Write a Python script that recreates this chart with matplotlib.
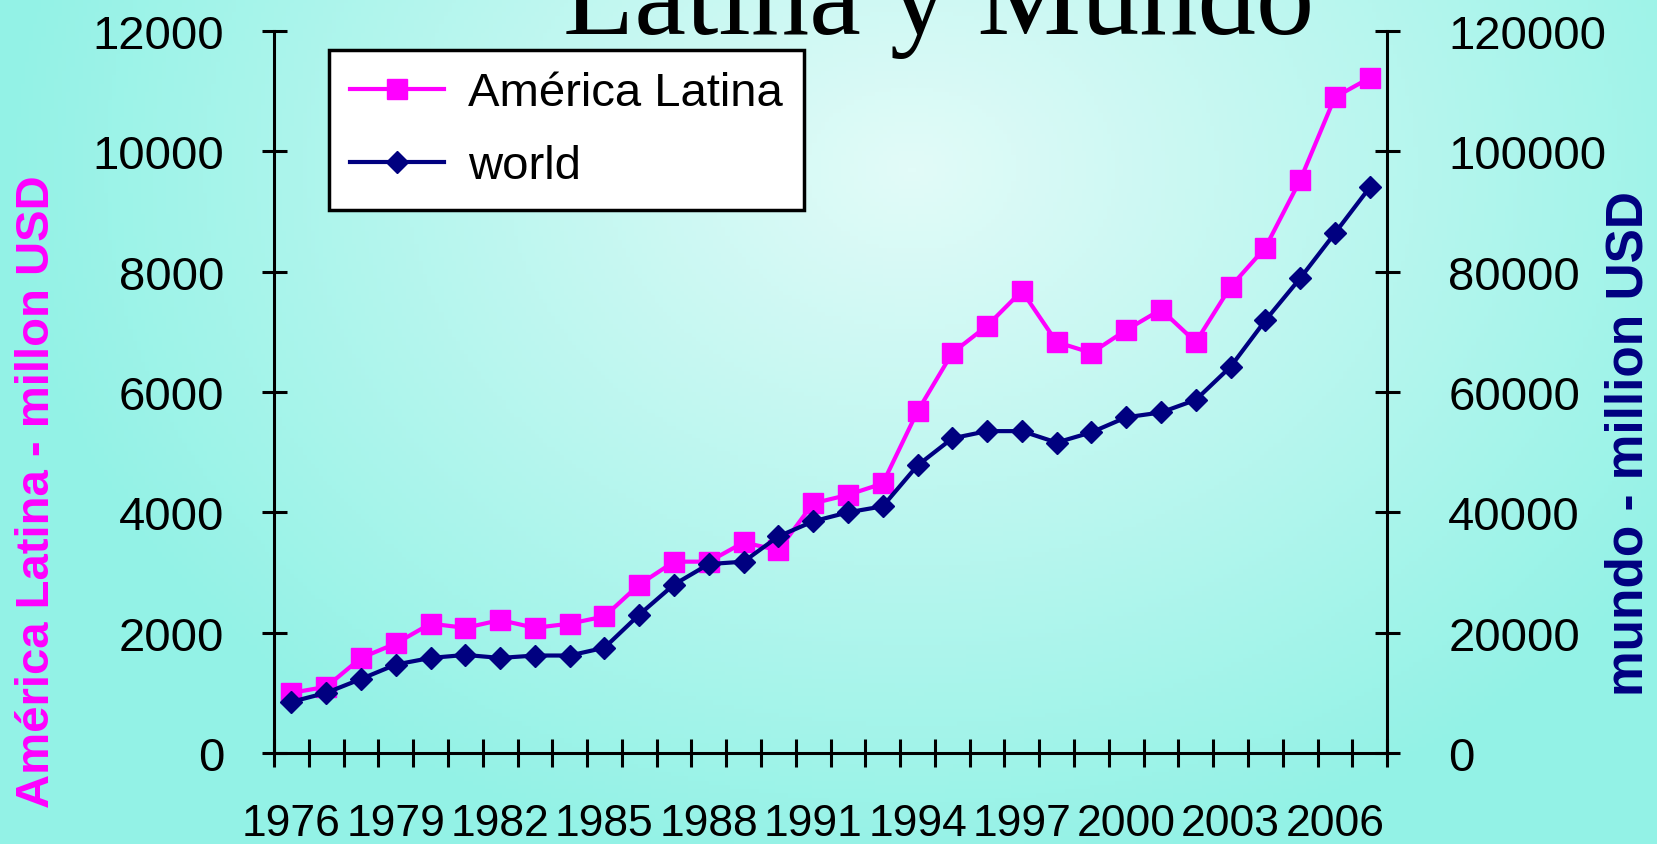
import numpy as np
import matplotlib
matplotlib.use("Agg")
import matplotlib.pyplot as plt
from matplotlib.colors import LinearSegmentedColormap

plt.rcParams['font.family'] = ['Liberation Sans', 'DejaVu Sans']

# datos
years = list(range(1976, 2008))
america_latina = [1000, 1100, 1580, 1820, 2150, 2080, 2210, 2080, 2150, 2270,
                  2800, 3180, 3180, 3500, 3370, 4150, 4290, 4480, 5680, 6650,
                  7100, 7680, 6830, 6650, 7030, 7370, 6830, 7750, 8400, 9520,
                  10900, 11220]
world = [8500, 10000, 12300, 14700, 15800, 16300, 15800, 16200, 16200, 17500,
         23000, 28000, 31400, 31800, 36000, 38500, 40000, 41000, 47800, 52300,
         53500, 53500, 51600, 53300, 55800, 56600, 58700, 64200, 71900, 78900,
         86400, 94000]
label_years = list(range(1976, 2007, 3))
left_ticks = [0, 2000, 4000, 6000, 8000, 10000, 12000]
right_ticks = [0, 20000, 40000, 60000, 80000, 100000, 120000]

fig = plt.figure(figsize=(16.58, 8.45), dpi=100)

# fondo con degradado radial
bg = fig.add_axes([0, 0, 1, 1], zorder=-10)
xx, yy = np.meshgrid(np.linspace(0, 1, 400), np.linspace(0, 1, 200))
r = np.sqrt(((xx - 0.55) / 0.55) ** 2 + ((yy - 0.80) / 0.85) ** 2)
cmap = LinearSegmentedColormap.from_list('bg', ['#e2fbf8', '#93f2e6'])
bg.imshow(np.clip(r, 0, 1), cmap=cmap, origin='lower', aspect='auto',
          extent=[0, 1, 0, 1], vmin=0, vmax=1)
bg.axis('off')

ax = fig.add_axes([0.1653, 0.1077, 0.6713, 0.8544])
ax.patch.set_alpha(0)
ax2 = ax.twinx()

l1, = ax.plot(years, america_latina, color='#ff00ff', lw=3, marker='s',
              markersize=14, label='América Latina', zorder=3)
l2, = ax2.plot(years, world, color='#000080', lw=3, marker='D',
               markersize=11, label='world', zorder=3)

ax.set_xlim(1975.5, 2007.5)
ax.set_ylim(0, 12000)
ax2.set_ylim(0, 120000)
ax.set_yticks(left_ticks)
ax2.set_yticks(right_ticks)

ax.set_xticks(label_years)
ax.set_xticks(np.arange(1975.5, 2008, 1), minor=True)
ax.tick_params(axis='x', which='major', length=0, labelsize=32, pad=36)
ax.tick_params(axis='x', which='minor', direction='inout', length=20, width=2.2)
ax.tick_params(axis='y', direction='inout', length=18, width=2.2,
               labelsize=34, pad=27)
ax2.tick_params(axis='y', direction='inout', length=18, width=2.2,
                labelsize=34, pad=35)

for a in (ax, ax2):
    a.spines['top'].set_visible(False)
    for s in ('left', 'right', 'bottom'):
        a.spines[s].set_linewidth(2.2)
ax.spines['right'].set_visible(False)
ax2.spines['left'].set_visible(False)
ax2.spines['bottom'].set_visible(False)

fig.text(0.0223, 0.418, 'América Latina - millon USD', rotation=90,
         color='#ff00ff', fontsize=34, fontweight='bold',
         ha='center', va='center')
fig.text(0.9826, 0.4746, 'mundo - million USD', rotation=90,
         color='#000080', fontsize=37, fontweight='bold',
         ha='center', va='center')

fig.text(0.566, 1 - 34 / 845, 'Latina y Mundo', fontsize=84,
         family=['Liberation Serif', 'DejaVu Serif'], ha='center',
         va='baseline')

leg = ax2.legend(handles=[l1, l2], loc='upper left',
                 bbox_to_anchor=(0.049, 0.974), fontsize=34, frameon=True,
                 fancybox=False, edgecolor='black', framealpha=1,
                 handlelength=2.0, handletextpad=0.5, borderpad=0.45,
                 labelspacing=0.62, borderaxespad=0)
leg.get_frame().set_linewidth(2.5)

fig.savefig('out.png', dpi=100)
